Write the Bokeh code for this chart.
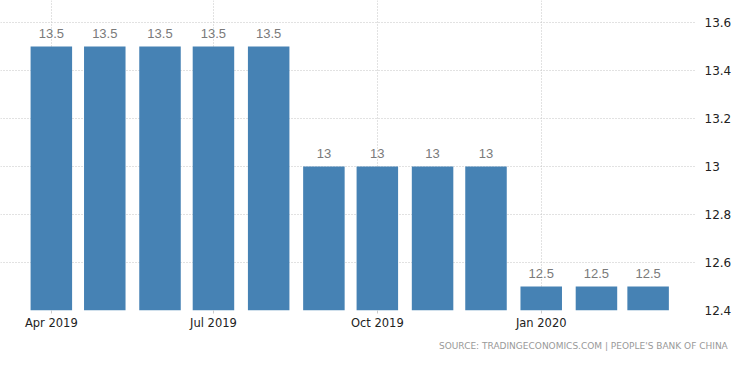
import pandas as pd
from bokeh.plotting import figure
from bokeh.models import ColumnDataSource, FixedTicker, DatetimeTickFormatter, Range1d, Title
from bokeh.core.properties import value
from bokeh.embed import file_html
from bokeh.resources import INLINE

months = ["2019-04-01", "2019-05-01", "2019-06-01", "2019-07-01", "2019-08-01", "2019-09-01",
          "2019-10-01", "2019-11-01", "2019-12-01", "2020-01-01", "2020-02-01", "2020-03-01"]
rates = [13.5, 13.5, 13.5, 13.5, 13.5, 13.0, 13.0, 13.0, 13.0, 12.5, 12.5, 12.5]
tick_dates = ["2019-04-01", "2019-07-01", "2019-10-01", "2020-01-01"]
y_ticks = [12.4, 12.6, 12.8, 13.0, 13.2, 13.4, 13.6]
source_text = "SOURCE: TRADINGECONOMICS.COM  |  PEOPLE'S BANK OF CHINA"

dates = pd.to_datetime(months)
labels = [("%g" % v) for v in rates]
src = ColumnDataSource(dict(x=dates, top=rates, label=labels))

day = pd.Timedelta(days=1)
x0 = dates[0] - 28.54 * day
x1 = dates[0] + 361.6 * day

p = figure(width=734, height=357, x_axis_type="datetime", y_axis_location="right",
           output_backend="svg", toolbar_location=None,
           x_range=Range1d(x0, x1), y_range=Range1d(12.4, 13.6917),
           min_border_left=0, min_border_right=30, min_border_top=0, min_border_bottom=47)
p.outline_line_color = None
p.background_fill_color = "white"
p.border_fill_color = "white"

p.vbar(x="x", top="top", bottom=12.4, width=23.3 * 24 * 3600 * 1000, source=src,
       fill_color="#4682B4", line_color=None)

p.text(x="x", y="top", text="label", source=src, text_align="center", text_baseline="bottom",
       y_offset=-9, text_font=value("Liberation Sans"), text_font_size="13px", text_color="#7a7a7a")

p.xaxis.ticker = FixedTicker(ticks=[pd.Timestamp(t).value / 1e6 for t in tick_dates])
p.xaxis.formatter = DatetimeTickFormatter(months="%b %Y", days="%b %Y", years="%b %Y")
p.xaxis.axis_line_color = None
p.xaxis.major_tick_line_color = "#cccccc"
p.xaxis.major_tick_out = 3
p.xaxis.major_tick_in = 0
p.xaxis.minor_tick_line_color = None
p.xaxis.major_label_text_font = "DejaVu Sans"
p.xaxis.major_label_text_font_size = "11.5px"
p.xaxis.major_label_text_color = "#222222"
p.xaxis.major_label_standoff = 2

p.yaxis.ticker = FixedTicker(ticks=y_ticks)
p.yaxis.axis_line_color = None
p.yaxis.major_tick_line_color = None
p.yaxis.minor_tick_line_color = None
p.yaxis.major_label_text_font = "DejaVu Sans"
p.yaxis.major_label_text_font_size = "12px"
p.yaxis.major_label_text_color = "#222222"
p.yaxis.major_label_standoff = 3

for g in (p.xgrid, p.ygrid):
    g.grid_line_color = "#c4c4c4"
    g.grid_line_dash = "1 2"
    g.grid_line_width = 1

t = Title(text=source_text, align="right", text_font="DejaVu Sans", text_font_size="9px",
          text_color="#999999", text_font_style="normal", offset=-38, standoff=13)
p.add_layout(t, "below")

open("out.html", "w").write(file_html(p, INLINE))
